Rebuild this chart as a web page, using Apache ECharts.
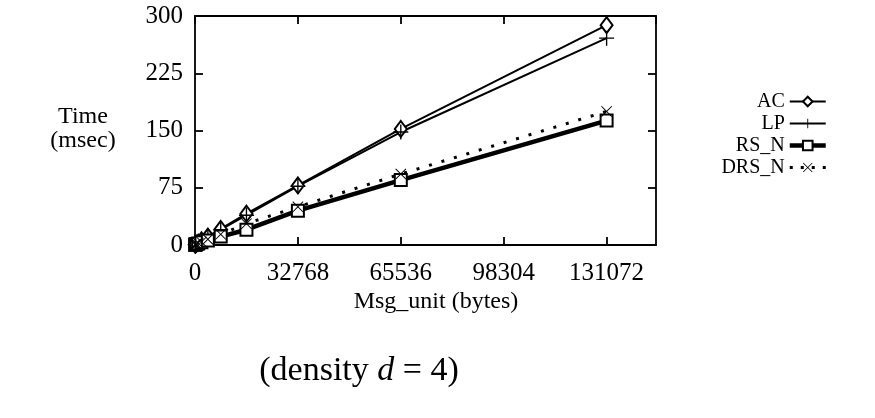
<!DOCTYPE html>
<html>
<head>
<meta charset="utf-8">
<script src="https://cdn.jsdelivr.net/npm/echarts@6/dist/echarts.min.js"></script>
<style>html,body{margin:0;padding:0;background:#fff}#c{width:875px;height:418px}</style>
</head>
<body>
<div id="c"></div>
<script>
var msgSizes = [64, 128, 256, 512, 1024, 2048, 4096, 8192, 16384, 32768, 65536, 131072];
var acTimes  = [0.5, 0.8, 1.2, 1.8, 3, 6, 11, 21, 41, 78, 152, 288];
var lpTimes  = [0.5, 0.8, 1.1, 1.7, 3, 5.5, 10.5, 20, 39, 77, 148, 271];
var rsTimes  = [0.4, 0.6, 0.8, 1.2, 2, 3.5, 6, 11, 20, 45, 85, 163];
var drsTimes = [0.5, 0.7, 1, 1.5, 2.5, 4, 7.5, 14, 28, 50, 93, 175];
var xTicks = [0, 32768, 65536, 98304, 131072];
var yTicks = [0, 75, 150, 225, 300];
var seriesNames = ['AC', 'LP', 'RS_N', 'DRS_N'];

var FONT = 'Liberation Serif';
function pairs(ys){ return msgSizes.map(function(x,i){ return [x, ys[i]]; }); }
var plusPath = 'path://M0,4.55 L10,4.55 L10,5.45 L0,5.45 Z M4.55,0 L5.45,0 L5.45,10 L4.55,10 Z';
var crossPath = 'path://M0.6,0 L5,4.4 L9.4,0 L10,0.6 L5.6,5 L10,9.4 L9.4,10 L5,5.6 L0.6,10 L0,9.4 L4.4,5 L0,0.6 Z';

var chart = echarts.init(document.getElementById('c'));
var xMax = 146800;
function axisCommon(){
  return {
    axisLine: {show: true, onZero: false, lineStyle: {color: '#000', width: 1.8}},
    axisTick: {show: true, inside: true, length: 8, lineStyle: {color: '#000', width: 1.8}},
    splitLine: {show: false}
  };
}
chart.setOption({
  animation: false,
  backgroundColor: '#fff',
  grid: {left: 195, top: 16, right: 219, bottom: 173, containLabel: false},
  legend: {
    orient: 'vertical', right: 42, top: 86, align: 'right',
    itemWidth: 36, itemHeight: 12, itemGap: 1,
    textStyle: {fontFamily: FONT, fontSize: 20, lineHeight: 21, color: '#000'},
    data: [
      {name: seriesNames[0], lineStyle: {width: 2}},
      {name: seriesNames[1], lineStyle: {width: 2}},
      {name: seriesNames[2], lineStyle: {width: 4.5}},
      {name: seriesNames[3], lineStyle: {width: 3, type: [3, 8]}}
    ]
  },
  xAxis: [
    Object.assign({type: 'value', min: 0, max: xMax, interval: 32768, position: 'bottom',
      axisLabel: {show: true, color: '#000', fontFamily: FONT, fontSize: 25, margin: 16, showMaxLabel: false,
        formatter: function(v){ return xTicks.indexOf(v) >= 0 ? String(v) : ''; }}}, axisCommon()),
    Object.assign({type: 'value', min: 0, max: xMax, interval: 32768, position: 'top',
      axisLabel: {show: false}}, axisCommon())
  ],
  yAxis: [
    Object.assign({type: 'value', min: 0, max: 300, interval: 75, position: 'left',
      axisLabel: {show: true, color: '#000', fontFamily: FONT, fontSize: 25, margin: 12,
        formatter: function(v){ return yTicks.indexOf(v) >= 0 ? String(v) : ''; }}}, axisCommon()),
    Object.assign({type: 'value', min: 0, max: 300, interval: 75, position: 'right',
      axisLabel: {show: false}}, axisCommon())
  ],
  series: [
    {name: 'AC', type: 'line', data: pairs(acTimes), symbol: 'emptyDiamond', symbolSize: [12, 16],
      showAllSymbol: true, color: '#000', lineStyle: {width: 2, color: '#000'}, itemStyle: {color: '#000', borderWidth: 1}},
    {name: 'LP', type: 'line', data: pairs(lpTimes), symbol: plusPath, symbolSize: 15,
      showAllSymbol: true, color: '#000', lineStyle: {width: 2, color: '#000'}, itemStyle: {color: '#000'}},
    {name: 'RS_N', type: 'line', data: pairs(rsTimes), symbol: 'emptyRect', symbolSize: 12,
      showAllSymbol: true, color: '#000', lineStyle: {width: 4.5, color: '#000'}, itemStyle: {color: '#000', borderWidth: 1}},
    {name: 'DRS_N', type: 'line', data: pairs(drsTimes), symbol: crossPath, symbolSize: 11,
      showAllSymbol: true, color: '#000', lineStyle: {width: 3, color: '#000', type: [3, 10]}, itemStyle: {color: '#000'}}
  ],
  graphic: [
    {type: 'text', x: 83, y: 105, style: {text: 'Time\n(msec)', fontFamily: FONT, fontSize: 24, fill: '#000', align: 'center', verticalAlign: 'top', lineHeight: 24}},
    {type: 'text', x: 436, y: 302, style: {text: 'Msg_unit (bytes)', fontFamily: FONT, fontSize: 24, fill: '#000', align: 'center', verticalAlign: 'middle'}},
    {type: 'text', x: 359, y: 371, style: {
      text: '{a|(density }{i|d}{a| = 4)}', align: 'center', verticalAlign: 'middle',
      rich: {a: {fontFamily: FONT, fontSize: 34, fill: '#000'}, i: {fontFamily: FONT, fontSize: 34, fontStyle: 'italic', fill: '#000'}}
    }}
  ]
});
</script>
</body>
</html>
